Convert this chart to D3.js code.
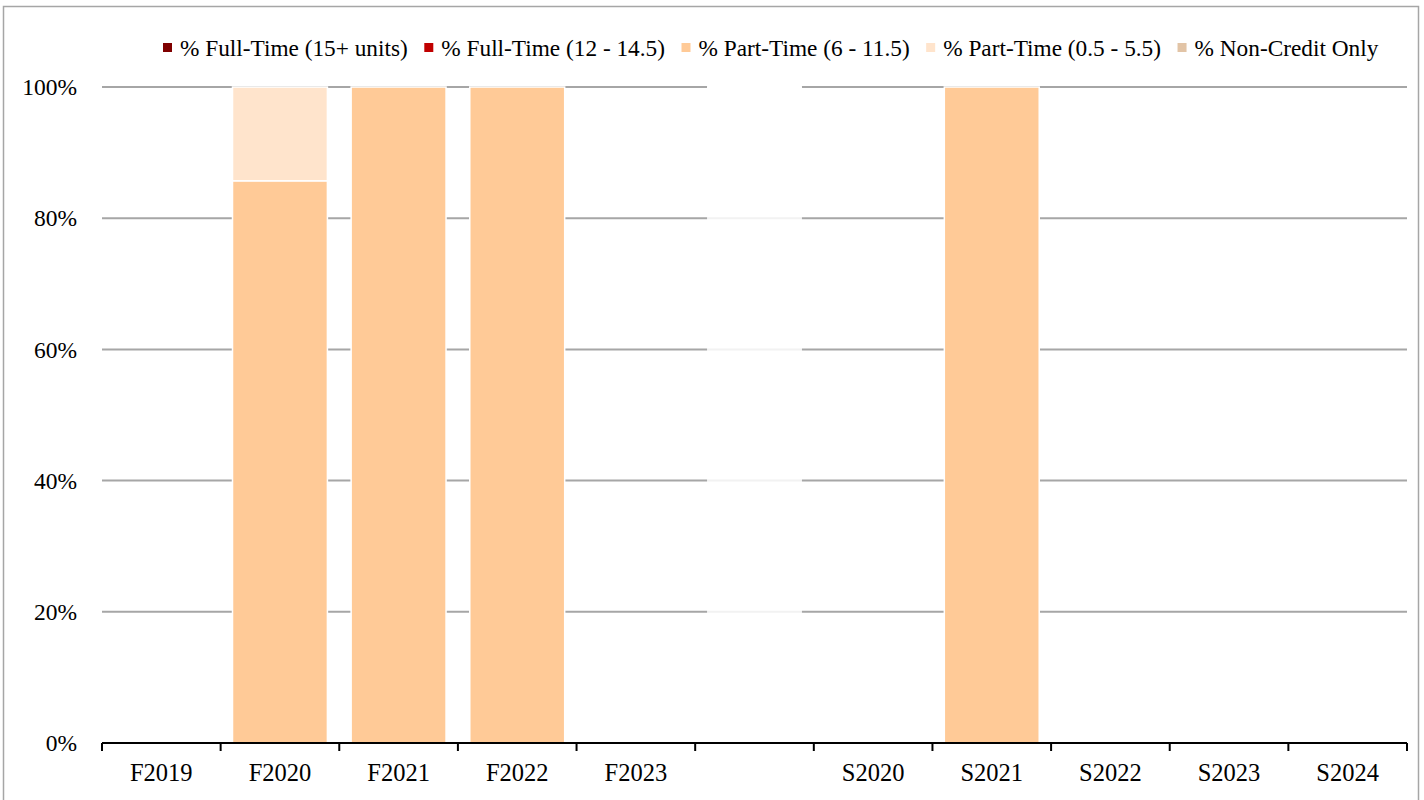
<!DOCTYPE html>
<html><head><meta charset="utf-8">
<script src="https://cdn.jsdelivr.net/npm/d3@7"></script>
<style>body{margin:0;background:#fff}svg{display:block}</style>
</head><body><svg id="c" width="1424" height="800"></svg>
<script>
const categories = ["F2019","F2020","F2021","F2022","F2023","","S2020","S2021","S2022","S2023","S2024"];
const seriesNames = ["% Full-Time (15+ units)","% Full-Time (12 - 14.5)","% Part-Time (6 - 11.5)","% Part-Time (0.5 - 5.5)","% Non-Credit Only"];
const fullTime15 = [0,0,0,0,0,0,0,0,0,0,0];
const fullTime12 = [0,0,0,0,0,0,0,0,0,0,0];
const partTime6  = [0,0.857,1,1,0,0,0,1,0,0,0];
const partTime05 = [0,0.143,0,0,0,0,0,0,0,0,0];
const nonCredit  = [0,0,0,0,0,0,0,0,0,0,0];
const spacer     = [0,0,0,0,0,1,0,0,0,0,0];
const colors = ["#7f0000","#c00000","#ffca97","#ffe4cc","#e2c4a6"];
const yTicks = [0,0.2,0.4,0.6,0.8,1];
const FONT = "Liberation Serif";

const svg = d3.select("#c");
const m = {l:102, r:1407, t:87, b:743};
const x = d3.scaleBand().domain(d3.range(categories.length)).range([m.l,m.r]).paddingInner(0.2).paddingOuter(0.1);
const y = d3.scaleLinear().domain([0,1]).range([m.b,m.t]);

svg.append("rect").attr("x",3.5).attr("y",6.5).attr("width",1415).attr("height",820)
  .attr("fill","none").attr("stroke","#a6a6a6").attr("stroke-width",1.5);

svg.append("g").selectAll("line").data(yTicks.filter(d=>d>0)).join("line")
  .attr("x1",m.l).attr("x2",m.r).attr("y1",d=>y(d)).attr("y2",d=>y(d))
  .attr("stroke","#a6a6a6").attr("stroke-width",2);

svg.append("g").selectAll("text").data(yTicks).join("text")
  .attr("x",77).attr("y",d=>y(d)).attr("dy","0.35em").attr("text-anchor","end")
  .style("font-family",FONT).style("font-size","23.5px").attr("fill","#000").text(d=>d3.format(".0%")(d));

const rows = categories.map((c,i)=>({i, s0:fullTime15[i], s1:fullTime12[i], s2:partTime6[i], s3:partTime05[i], s4:nonCredit[i]}));
const stack = d3.stack().keys(["s0","s1","s2","s3","s4"])(rows);
stack.forEach((layer,k)=>{
  svg.append("g").selectAll("rect").data(layer.filter(d=>d[1]-d[0]>0)).join("rect")
    .attr("x",d=>x(d.data.i)).attr("width",x.bandwidth())
    .attr("y",d=>y(d[1])).attr("height",d=>y(d[0])-y(d[1]))
    .attr("fill",colors[k]).attr("stroke","#fff").attr("stroke-width",1.5);
});
const sp = spacer.map((v,i)=>({v,i})).filter(d=>d.v>0);
svg.append("g").selectAll("rect").data(sp).join("rect")
  .attr("x",d=>x(d.i)).attr("width",x.bandwidth())
  .attr("y",d=>y(d.v)).attr("height",d=>y(0)-y(d.v))
  .attr("fill","#fff").attr("fill-opacity",0.85);
svg.append("g").selectAll("line").data(sp).join("line")
  .attr("x1",d=>x(d.i)).attr("x2",d=>x(d.i)+x.bandwidth())
  .attr("y1",d=>y(d.v)).attr("y2",d=>y(d.v)).attr("stroke","#fff").attr("stroke-width",3);

const step = x.step();
const edges = d3.range(categories.length+1).map(i=>m.l + i*step);
svg.append("line").attr("x1",m.l).attr("x2",m.r).attr("y1",m.b).attr("y2",m.b).attr("stroke","#000").attr("stroke-width",2);
svg.append("g").selectAll("line").data(edges).join("line")
  .attr("x1",d=>d).attr("x2",d=>d).attr("y1",m.b).attr("y2",m.b+8).attr("stroke","#000").attr("stroke-width",2);
svg.append("g").selectAll("text").data(categories).join("text")
  .attr("x",(d,i)=>x(i)+x.bandwidth()/2).attr("y",781).attr("text-anchor","middle")
  .style("font-family",FONT).style("font-size","24.5px").attr("fill","#000").text(d=>d);

const lg = svg.append("g");
let cx = 163;
seriesNames.forEach((n,k)=>{
  lg.append("rect").attr("x",cx).attr("y",43).attr("width",9).attr("height",9).attr("fill",colors[k]);
  const t = lg.append("text").attr("x",cx+17).attr("y",56)
    .style("font-family",FONT).style("font-size","23.3px").attr("fill","#000").text(n);
  cx += 17 + t.node().getComputedTextLength() + 16.5;
});
</script></body></html>
